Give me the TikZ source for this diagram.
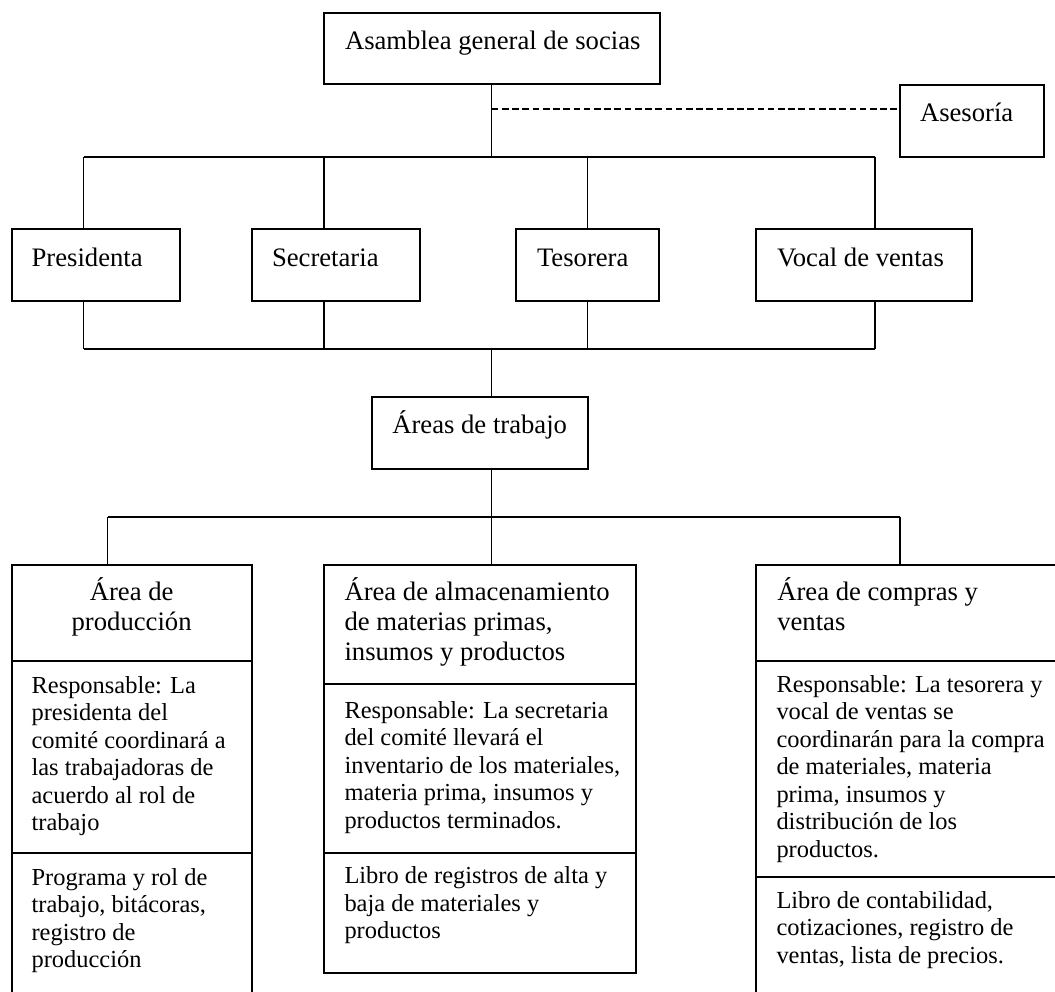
\documentclass[tikz,border=0pt]{standalone}
\usepackage{fontspec}
\setmainfont{Liberation Serif}
\usetikzlibrary{fit}
\begin{document}
\begin{tikzpicture}[x=0.45pt,y=-0.45pt,
  box/.style={draw,line width=0.9pt,inner sep=0pt,outer sep=0pt},
  hbar/.style={line width=0.9pt},
  vbar/.style={line width=0.6pt},
  dashline/.style={line width=0.9pt,dash pattern=on 3pt off 1.6pt},
  ttl/.style={anchor=base west,inner sep=0pt,outer sep=0pt,align=left,font=\fontsize{12}{13.5}\selectfont},
  ttlc/.style={anchor=base,inner sep=0pt,outer sep=0pt,align=center,font=\fontsize{12}{13.5}\selectfont},
  bdy/.style={anchor=base west,inner sep=0pt,outer sep=0pt,align=left,font=\fontsize{11}{12.375}\selectfont},
]
\useasboundingbox (0,0) rectangle (1055,991);
\clip (0,0) rectangle (1055,991);

% boxes
\node[box,fit={(323.5,12.7) (660,84.5)}] (asam) {};
\node[box,fit={(900,85) (1044,157)}] (ases) {};
\node[box,fit={(11.5,229) (179.7,301)}] (pres) {};
\node[box,fit={(251.7,229) (420,301)}] (secr) {};
\node[box,fit={(515.5,229) (659,301)}] (teso) {};
\node[box,fit={(755.7,229) (971.7,301)}] (voca) {};
\node[box,fit={(371.5,396.7) (587.5,469)}] (area) {};

\node[box,fit={(11.5,564.5) (251.7,660.7)}] (prodT) {};
\node[box,fit={(11.5,660.7) (251.7,852.7)}] (prodR) {};
\node[box,fit={(11.5,852.7) (251.7,1000)}] (prodD) {};

\node[box,fit={(323.5,564.5) (635.5,684.3)}] (almT) {};
\node[box,fit={(323.5,684.3) (635.5,852.7)}] (almR) {};
\node[box,fit={(323.5,852.7) (635.5,972.7)}] (almD) {};

\node[box,fit={(755.7,564.5) (1060,660.7)}] (comT) {};
\node[box,fit={(755.7,660.7) (1060,876.7)}] (comR) {};
\node[box,fit={(755.7,876.7) (1060,1000)}] (comD) {};

% texts (multi-line nodes are anchored at the baseline of their last line)
\node[ttl] (tAsam) at (345,50) {Asamblea general de socias};
\node[ttl] (tAses) at (920,121.5) {Asesoría};
\node[ttl] (tPres) at (31.6,266) {Presidenta};
\node[ttl] (tSecr) at (272,266) {Secretaria};
\node[ttl] (tTeso) at (537,266) {Tesorera};
\node[ttl] (tVoca) at (777,266) {Vocal de ventas};
\node[ttl] (tArea) at (392.3,433.5) {Áreas de trabajo};

\node[ttlc] (tProdT) at (131.6,630.5) {Área de\\producción};
\node[bdy] (tProdR) at (31.6,830.5) {Responsable: La\\presidenta del\\comité coordinará a\\las trabajadoras de\\acuerdo al rol de\\trabajo};
\node[bdy] (tProdD) at (31.6,967.5) {Programa y rol de\\trabajo, bitácoras,\\registro de\\producción};

\node[ttl] (tAlmT) at (344.5,660) {Área de almacenamiento\\de materias primas,\\insumos y productos};
\node[bdy] (tAlmR) at (344.5,828.3) {Responsable: La secretaria\\del comité llevará el\\inventario de los materiales,\\materia prima, insumos y\\productos terminados.};
\node[bdy] (tAlmD) at (344.5,938.5) {Libro de registros de alta y\\baja de materiales y\\productos};

\node[ttl] (tComT) at (777.3,630) {Área de compras y\\ventas};
\node[bdy] (tComR) at (776.5,857.3) {Responsable: La tesorera y\\vocal de ventas se\\coordinarán para la compra\\de materiales, materia\\prima, insumos y\\distribución de los\\productos.};
\node[bdy] (tComD) at (776.5,963.3) {Libro de contabilidad,\\cotizaciones, registro de\\ventas, lista de precios.};

% junction coordinates
\coordinate (j1) at (83.5,156.7);
\coordinate (j2) at (324,156.7);
\coordinate (j3) at (587.5,156.7);
\coordinate (j4) at (875,156.7);
\coordinate (jm) at (491.75,156.7);
\coordinate (k1) at (83.5,349);
\coordinate (k2) at (324,349);
\coordinate (k3) at (587.5,349);
\coordinate (k4) at (875,349);
\coordinate (km) at (491.75,349);
\coordinate (l1) at (107.7,516.7);
\coordinate (l2) at (491.75,516.7);
\coordinate (l3) at (900,516.7);
\coordinate (d0) at (491.75,109);

% top level
\draw[vbar] (asam.south) -- (jm);
\draw[dashline] (d0) -- (d0 -| ases.west);
\draw[hbar] (j1) -- (j4);
\draw[vbar] (j1) -- (j1 |- pres.north);
\draw[vbar] (j2) -- (j2 |- secr.north);
\draw[vbar] (j3) -- (j3 |- teso.north);
\draw[vbar] (j4) -- (j4 |- voca.north);

% second bar
\draw[vbar] (k1 |- pres.south) -- (k1);
\draw[vbar] (k2 |- secr.south) -- (k2);
\draw[vbar] (k3 |- teso.south) -- (k3);
\draw[vbar] (k4 |- voca.south) -- (k4);
\draw[hbar] (k1) -- (k4);
\draw[vbar] (km) -- (km |- area.north);

% third bar
\draw[vbar] (km |- area.south) -- (l2);
\draw[hbar] (l1) -- (l3);
\draw[vbar] (l1) -- (l1 |- prodT.north);
\draw[vbar] (l2) -- (l2 |- almT.north);
\draw[vbar] (l3) -- (l3 |- comT.north);
\end{tikzpicture}
\end{document}
